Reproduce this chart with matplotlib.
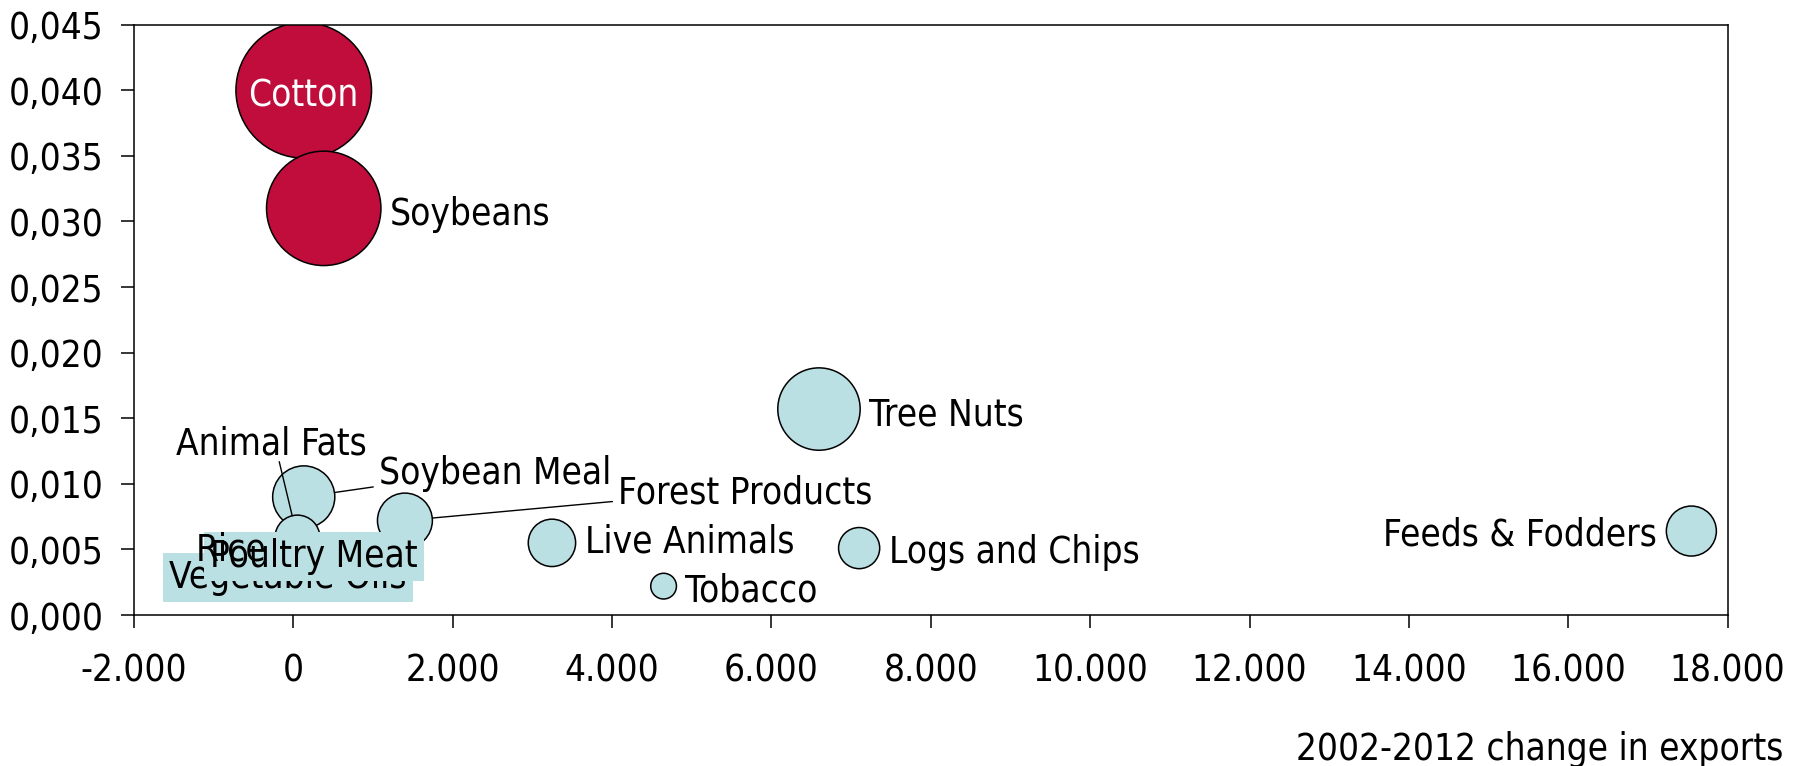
import numpy as np
import matplotlib
matplotlib.use("Agg")
import matplotlib.pyplot as plt
from matplotlib.ticker import FuncFormatter

plt.rcParams['font.family'] = ['DejaVu Sans']
plt.rcParams['font.stretch'] = 'condensed'

# ---------------- data ----------------
products = ["Cotton", "Soybeans", "Tree Nuts", "Soybean Meal", "Forest Products",
            "Feeds & Fodders", "Live Animals", "Animal Fats", "Logs and Chips",
            "Poultry Meat", "Rice", "Vegetable Oils", "Tobacco"]
export_change = [130, 381, 6596, 130, 1400, 17544, 3245, 51, 7100, 300, 100, -50, 4646]
share_value = [0.0400, 0.0310, 0.0157, 0.0090, 0.0072, 0.0064, 0.0055, 0.0059,
               0.0051, 0.0043, 0.0047, 0.0035, 0.0022]
bubble_size = [100, 71.2, 36.9, 21.0, 16.4, 13.6, 12.2, 11.0, 9.2, 6.0, 4.3, 3.1, 3.6]
highlight = ["Cotton", "Soybeans"]

x_ticks = np.arange(-2000, 18001, 2000)
y_ticks = np.arange(0, 0.0451, 0.005)

# ---------------- style ----------------
RED = "#C00D3C"
BLUE = "#BBE0E3"
FS = 26.5
DPI = 100
MAX_R = 67.8            # pixel radius of the largest bubble
CAP_HALF = 13.5         # px from baseline to middle of capitals

fig = plt.figure(figsize=(17.96, 7.66), dpi=DPI)
ax = fig.add_axes([134 / 1796, 1 - 615 / 766, (1727.7 - 134) / 1796, (615 - 24.7) / 766])
ax.set_xlim(x_ticks[0], x_ticks[-1])
ax.set_ylim(y_ticks[0], 0.045)

radius = {p: MAX_R * np.sqrt(s / 100.0) for p, s in zip(products, bubble_size)}
order = np.argsort(bubble_size)[::-1]
xs = np.array(export_change)[order]
ys = np.array(share_value)[order]
rs = np.array([radius[products[i]] for i in order])
cols = [RED if products[i] in highlight else BLUE for i in order]
sizes = (2 * rs * 72.0 / DPI) ** 2
ax.scatter(xs, ys, s=sizes, c=cols, edgecolors="black", linewidths=1.1, zorder=2)

pos = {p: (x, y) for p, x, y in zip(products, export_change, share_value)}

def label(name, dx, dy, ha="left", color="black", box=False, z=5):
    kw = dict(xy=pos[name], xycoords="data", xytext=(dx, dy - CAP_HALF),
              textcoords="offset pixels", ha=ha, va="baseline", fontsize=FS,
              color=color, zorder=z)
    if box:
        kw["bbox"] = dict(boxstyle="square,pad=0.16", fc=BLUE, ec="none")
    ax.annotate(name, **kw)

def leader(name, dx, dy):
    ax.annotate("", xy=pos[name], xycoords="data", xytext=(dx, dy),
                textcoords="offset pixels",
                arrowprops=dict(arrowstyle="-", color="black", lw=1.0,
                                shrinkA=0, shrinkB=radius[name] * 72.0 / DPI),
                zorder=4)

GAP = 9
# labels to the right of bubbles
for name, dy in [("Soybeans", -3), ("Tree Nuts", -3), ("Logs and Chips", -1),
                 ("Tobacco", -2), ("Live Animals", 4)]:
    label(name, radius[name] + GAP, dy)
label("Feeds & Fodders", -(radius["Feeds & Fodders"] + GAP), -1, ha="right")
label("Cotton", 0, -3, ha="center", color="white")

# labels with leader lines
leader("Soybean Meal", 69.5, 10)
label("Soybean Meal", 75.5, 26.7)
leader("Forest Products", 207.5, 19)
label("Forest Products", 213, 31)
leader("Animal Fats", -18.2, 75.9)
label("Animal Fats", -25.6, 96.5, ha="center")

# overlapping boxed labels
label("Vegetable Oils", -1.4, -5.5, ha="center", box=True, z=5)
label("Poultry Meat", -3.3, 5, ha="center", box=True, z=6)
label("Rice", -70.6, 6, ha="center", z=7)

# ---------------- axes ----------------
ax.set_xticks(x_ticks)
ax.set_yticks(y_ticks)
ax.xaxis.set_major_formatter(FuncFormatter(lambda v, p: f"{v:,.0f}".replace(",", ".")))
ax.yaxis.set_major_formatter(FuncFormatter(lambda v, p: f"{v:.3f}".replace(".", ",")))
ax.tick_params(axis="both", direction="out", length=9.4, width=1.1, labelsize=FS,
               color="black", labelcolor="black")
ax.tick_params(axis="y", pad=12.3)
ax.tick_params(axis="x", pad=17.5)
for sp in ax.spines.values():
    sp.set_linewidth(1.1)
    sp.set_color("black")

fig.text(1783 / 1796, 1 - 760 / 766, "2002-2012 change in exports", ha="right",
         va="baseline", fontsize=FS)

fig.savefig("out.png", dpi=DPI)
